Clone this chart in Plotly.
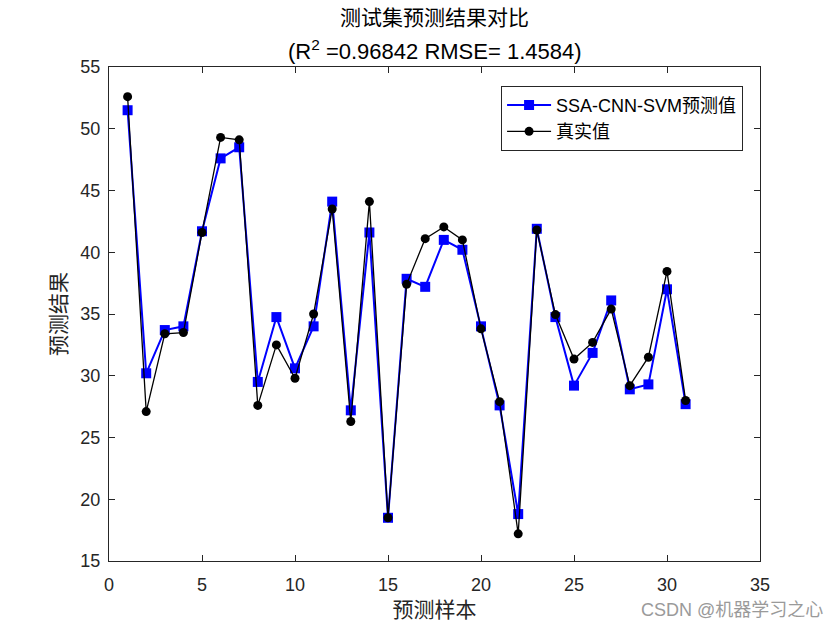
import plotly.graph_objects as go

samples = list(range(1, 32))
predicted = [51.5, 30.2, 33.7, 34.0, 41.7, 47.6, 48.5, 29.5, 34.75, 30.6,
             34.0, 44.1, 27.2, 41.6, 18.5, 37.85, 37.2, 41.0, 40.2, 34.0,
             27.6, 18.8, 41.9, 34.75, 29.2, 31.85, 36.1, 28.9, 29.3, 37.0, 27.7]
actual = [52.6, 27.1, 33.4, 33.5, 41.6, 49.3, 49.1, 27.6, 32.5, 29.8,
          35.0, 43.5, 26.3, 44.1, 18.5, 37.4, 41.1, 42.05, 41.0, 33.8,
          27.9, 17.2, 41.8, 34.95, 31.35, 32.7, 35.4, 29.2, 31.5, 38.45, 28.0]
x_ticks = [0, 5, 10, 15, 20, 25, 30, 35]
y_ticks = [15, 20, 25, 30, 35, 40, 45, 50, 55]

FONT = "Liberation Sans, Arial, Noto Sans CJK SC"

fig = go.Figure()
fig.add_trace(go.Scatter(
    x=samples, y=predicted, mode="lines+markers", name="SSA-CNN-SVM预测值",
    line=dict(color="#0000ff", width=2),
    marker=dict(symbol="square", size=10, color="#0000ff"),
))
fig.add_trace(go.Scatter(
    x=samples, y=actual, mode="lines+markers", name="真实值",
    line=dict(color="#000000", width=1.3),
    marker=dict(symbol="circle", size=9, color="#000000"),
))

axis_common = dict(
    showgrid=False, zeroline=False, showline=True, linecolor="#262626",
    linewidth=1, mirror="ticks", ticks="inside", ticklen=6,
    tickcolor="#262626", tickfont=dict(family=FONT, size=18, color="#262626"),
)

fig.update_layout(
    width=840, height=630,
    margin=dict(l=109, r=80, t=67, b=69),
    paper_bgcolor="white", plot_bgcolor="white",
    font=dict(family=FONT, color="#262626"),
    xaxis=dict(range=[0, 35], tickvals=x_ticks, ticklabelstandoff=7, **axis_common,
               title=dict(text="预测样本", font=dict(family=FONT, size=21), standoff=8)),
    yaxis=dict(range=[15, 55], tickvals=y_ticks, ticklabelstandoff=4, **axis_common,
               title=dict(text="预测结果", font=dict(family=FONT, size=21), standoff=8)),
    showlegend=True,
    legend=dict(
        x=0.974, y=0.962, xanchor="right", yanchor="top",
        bgcolor="white", bordercolor="#262626", borderwidth=1,
        font=dict(family=FONT, size=18, color="#000000"),
        tracegroupgap=0, itemwidth=44,
    ),
)

fig.add_annotation(text="测试集预测结果对比", xref="paper", yref="paper",
                   x=0.5, y=(561 - 18) / 494, xanchor="center", yanchor="middle",
                   showarrow=False, font=dict(family=FONT, size=21, color="#000000"))
fig.add_annotation(text="(R<sup>2</sup> =0.96842 RMSE= 1.4584)", xref="paper", yref="paper",
                   x=0.5, y=(561 - 50) / 494, xanchor="center", yanchor="middle",
                   showarrow=False, font=dict(family=FONT, size=22, color="#000000"))
fig.add_annotation(text="CSDN @机器学习之心", xref="paper", yref="paper",
                   x=(825 - 109) / 651, y=(561 - 610) / 494, xanchor="right", yanchor="middle",
                   showarrow=False, font=dict(family=FONT, size=18, color="#9a9a9a"))

fig.write_html("out.html")
